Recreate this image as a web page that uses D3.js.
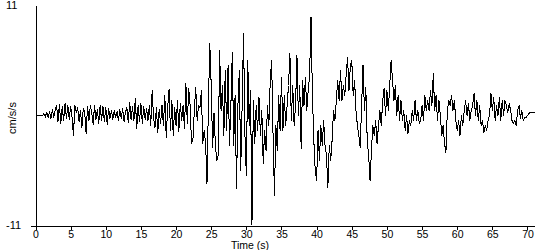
<!DOCTYPE html>
<html>
<head>
<meta charset="utf-8">
<script src="https://cdn.jsdelivr.net/npm/d3@7"></script>
<style>
body { margin: 0; background: #fff; }
text { font-family: "Liberation Sans", Arial, sans-serif; font-size: 11px; fill: #000; }
</style>
</head>
<body>
<script>
// sample interval of the record, seconds
var dt = 0.2;
// acceleration, cm/s/s, one row per second of record
var accel = [
	0,0,0,0,0,
	0,0.2,-0.1,0.3,-0.2,
	0.4,-0.3,0.6,-0.2,0.5,
	1.0,-0.6,1.1,-0.8,0.9,
	-0.5,1.2,-0.3,1.0,-0.4,
	0.9,-0.2,-2.0,1.0,0.3,
	0.8,-0.6,0.5,-1.2,0.7,
	0.3,-1.8,0.9,-0.5,1.0,
	0.3,-0.9,1.0,-0.4,0.6,
	-0.8,1.0,-0.5,0.9,-0.6,
	0.8,-0.9,0.7,-0.3,0.5,
	-0.4,0.5,-0.2,0.4,-0.5,
	0.6,-0.3,0.7,-0.6,0.3,
	0.8,-0.7,1.3,-0.4,0.9,
	-0.5,1.7,-1.3,1.0,-0.6,
	1.2,-0.8,0.9,-0.4,0.7,
	-0.5,1.0,-1.0,2.5,-0.3,
	-1.2,0.8,-1.7,0.6,-0.8,
	1.0,-1.0,2.0,-2.2,0.7,
	2.6,-1.5,1.5,-2.0,0.8,
	-1.0,1.5,-1.6,1.2,-0.5,
	1.0,-1.3,3.2,-0.8,2.7,
	1.0,-2.8,-2.4,0.5,2.8,
	-0.5,1.0,0.8,2.5,-2.8,
	-1.5,-2.7,-6.8,1.0,7.2,
	3.0,-3.2,0.2,-3.0,-4.5,
	-4.0,6.5,0.5,3.0,-2.0,
	4.5,-1.5,5.0,-3.0,1.0,
	6.3,-3.0,2.0,-7.3,1.0,
	4.5,-5.5,1.0,8.2,-2.0,
	-6.0,5.5,-1.0,2.5,-10.9,
	1.5,-2.8,1.0,-1.5,1.8,
	-2.0,0.5,-4.8,-1.5,-3.5,
	1.0,-1.0,3.5,5.5,-2.0,
	-8.0,-1.0,-3.5,2.0,-1.5,
	3.8,-1.5,2.0,-1.0,1.0,
	3.0,6.2,-0.5,3.0,-1.0,
	1.0,6.0,0.0,3.0,-3.3,
	3.5,1.0,3.8,0.5,2.5,
	4.0,9.8,2.0,-2.5,-5.5,
	-6.5,-1.5,-4.5,-1.0,-3.0,
	-0.5,-3.0,-4.0,-7.2,-3.0,
	-4.5,-2.5,0.5,-0.5,1.5,
	3.5,1.5,4.5,1.5,3.0,
	2.0,4.0,5.8,2.5,5.0,
	5.5,2.0,3.5,0.5,-1.0,
	-2.0,-3.2,1.0,5.0,0.5,
	2.8,-2.5,-4.0,-6.5,-3.5,
	-1.0,-2.0,-0.5,-2.8,-1.0,
	0.5,-1.0,1.5,2.7,0.0,
	2.5,0.5,3.0,5.5,3.5,
	1.5,3.0,0.0,2.0,-0.5,
	1.5,-0.5,0.5,-1.5,0.0,
	-1.8,-0.5,-1.0,0.5,-0.5,
	1.5,-0.5,0.5,-0.8,-0.5,
	1.0,-0.5,2.0,0.5,1.5,
	0.5,2.5,1.0,4.2,0.5,
	2.0,-0.5,1.5,0.0,-2.0,
	-1.0,-2.8,-3.7,0.5,1.5,
	1.0,2.0,0.5,1.5,-0.5,
	-1.5,-0.5,-2.0,0.0,-1.0,
	0.5,1.5,0.0,1.2,-0.5,
	0.5,1.0,2.2,0.0,1.5,
	-0.5,1.0,-1.0,-0.5,-1.7,
	-1.0,-1.5,-0.5,0.0,2.2,
	0.5,1.8,-0.5,1.0,0.0,
	1.8,-0.5,1.5,0.0,1.5,
	1.0,0.3,1.2,0.5,-0.5,
	-0.8,-0.5,-1.0,0.5,1.0,
	-0.3,0.5,-0.5,-0.2,-0.2,
	0.0,0.2,0.3,0.3,0.3,
	0.3
];
var xTicks = [0,5,10,15,20,25,30,35,40,45,50,55,60,65,70];
var yLabels = [11, -11];
var xTitle = 'Time (s)', yTitle = 'cm/s/s';

var svg = d3.select('body').append('svg').attr('width', 550).attr('height', 250);

var x = d3.scaleLinear().domain([0, 71]).range([35.5, 534.5]);
var y = d3.scaleLinear().domain([-11, 11]).range([225.5, 5.5]);

/* axes */
var xa = svg.append('g').attr('transform', 'translate(0,' + y(-11) + ')')
	.call(d3.axisBottom(x).tickValues(xTicks).tickSize(4).tickSizeOuter(0).tickPadding(1));
var ya = svg.append('g').attr('transform', 'translate(' + x(0) + ',0)')
	.call(d3.axisLeft(y).tickValues([-11]).tickSize(5).tickSizeOuter(0).tickFormat(''));
svg.selectAll('.domain, .tick line').attr('stroke', '#000').attr('shape-rendering', 'crispEdges');
xa.selectAll('text').attr('fill', '#000').style('font-size', '10.5px').style('font-family', '"Liberation Sans", Arial, sans-serif');

svg.selectAll('.ylab').data(yLabels).enter().append('text').attr('class', 'ylab')
	.attr('x', 6).attr('y', function(d){ return y(d); }).attr('dy', '0.35em').text(function(d){ return d; });

svg.append('text').attr('x', 250).attr('y', 249).attr('text-anchor', 'middle').style('font-size', '10.5px').text(xTitle);
svg.append('text').attr('transform', 'translate(16,118) rotate(-90)').attr('text-anchor', 'middle').text(yTitle);

/* the record */
var line = d3.line().x(function(d, i){ return x(i * dt); }).y(function(d){ return y(d); });
svg.append('path').datum(accel).attr('d', line).attr('fill', 'none').attr('stroke', '#000')
	.attr('stroke-width', 1).attr('shape-rendering', 'crispEdges');
</script>
</body>
</html>
